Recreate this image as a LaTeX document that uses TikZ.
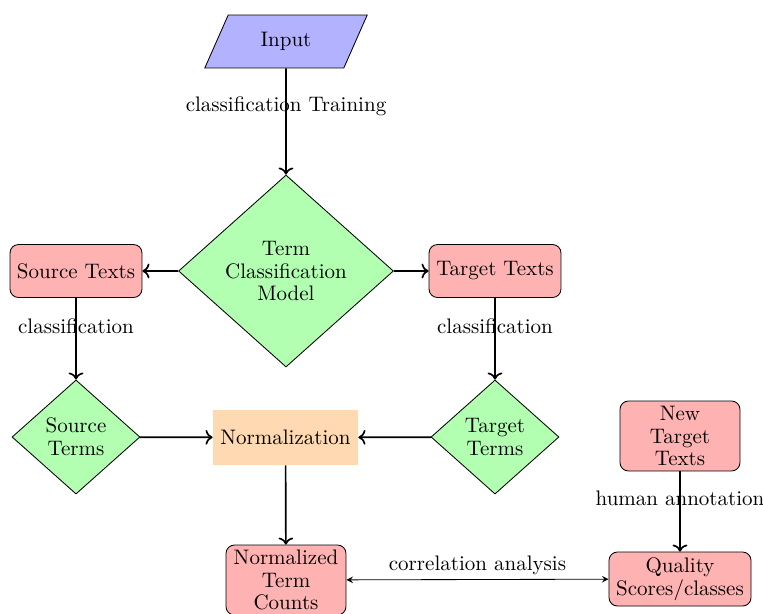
\documentclass[tikz,border=0pt]{standalone}
\usetikzlibrary{shapes.geometric,arrows.meta}
\begin{document}
\begin{tikzpicture}[x=0.476pt,y=-0.476pt,
  textbox/.style={rectangle, rounded corners, draw, fill=red!30, align=center, inner sep=1pt},
  decision/.style={diamond, draw, fill=green!30, align=center, inner sep=0pt},
  inputbox/.style={trapezium, trapezium left angle=68, trapezium right angle=112,
    trapezium stretches=true, draw, fill=blue!30},
  procbox/.style={rectangle, fill=orange!30},
  flow/.style={thick,->},
  lbl/.style={midway, above, yshift=-1.2pt}]
\useasboundingbox (0,0) rectangle (763,613);

% nodes
\node[inputbox, minimum width=77.6pt, minimum height=25.2pt] (input) at (286,41.5) {Input};
\node[decision, minimum width=102.3pt, minimum height=91.4pt] (model) at (286,271)
  {Term\\[-1.1pt]Classification\\[-1.1pt]Model};
\node[textbox, minimum width=62.8pt, minimum height=25.2pt] (stexts) at (76,271) {Source Texts};
\node[textbox, minimum width=62.8pt, minimum height=25.2pt] (ttexts) at (495,271) {Target Texts};
\node[decision, minimum width=60.9pt, minimum height=54.3pt] (sterms) at (76,437)
  {Source\\[-1.1pt]Terms};
\node[decision, minimum width=60.9pt, minimum height=54.3pt] (tterms) at (495,437)
  {Target\\[-1.1pt]Terms};
\node[procbox, minimum width=69pt, minimum height=26.2pt] (norm) at (285.5,437.5) {Normalization};
\node[textbox, minimum width=57.1pt, minimum height=33.3pt] (newtexts) at (680,436)
  {New\\[-1.1pt]Target\\[-1.1pt]Texts};
\node[textbox, minimum width=67.6pt, minimum height=25.7pt] (quality) at (680,579)
  {Quality\\[-1.1pt]Scores/classes};
\node[textbox, minimum width=57.1pt, minimum height=33.3pt] (counts) at (286,580)
  {Normalized\\[-1.1pt]Term\\[-1.1pt]Counts};

% connectors
\draw[flow] (input) -- node[lbl] {classification Training} (model);
\draw[flow] (model) -- (stexts);
\draw[flow] (model) -- (ttexts);
\draw[flow] (stexts) -- node[lbl] {classification} (sterms);
\draw[flow] (ttexts) -- node[lbl] {classification} (tterms);
\draw[flow] (sterms) -- (norm);
\draw[flow] (tterms) -- (norm);
\draw[flow] (norm) -- (counts);
\draw[flow] (newtexts) -- node[lbl] {human annotation} (quality);
\draw[stealth-stealth] (counts) -- node[lbl] {correlation analysis} (quality);
\end{tikzpicture}
\end{document}
